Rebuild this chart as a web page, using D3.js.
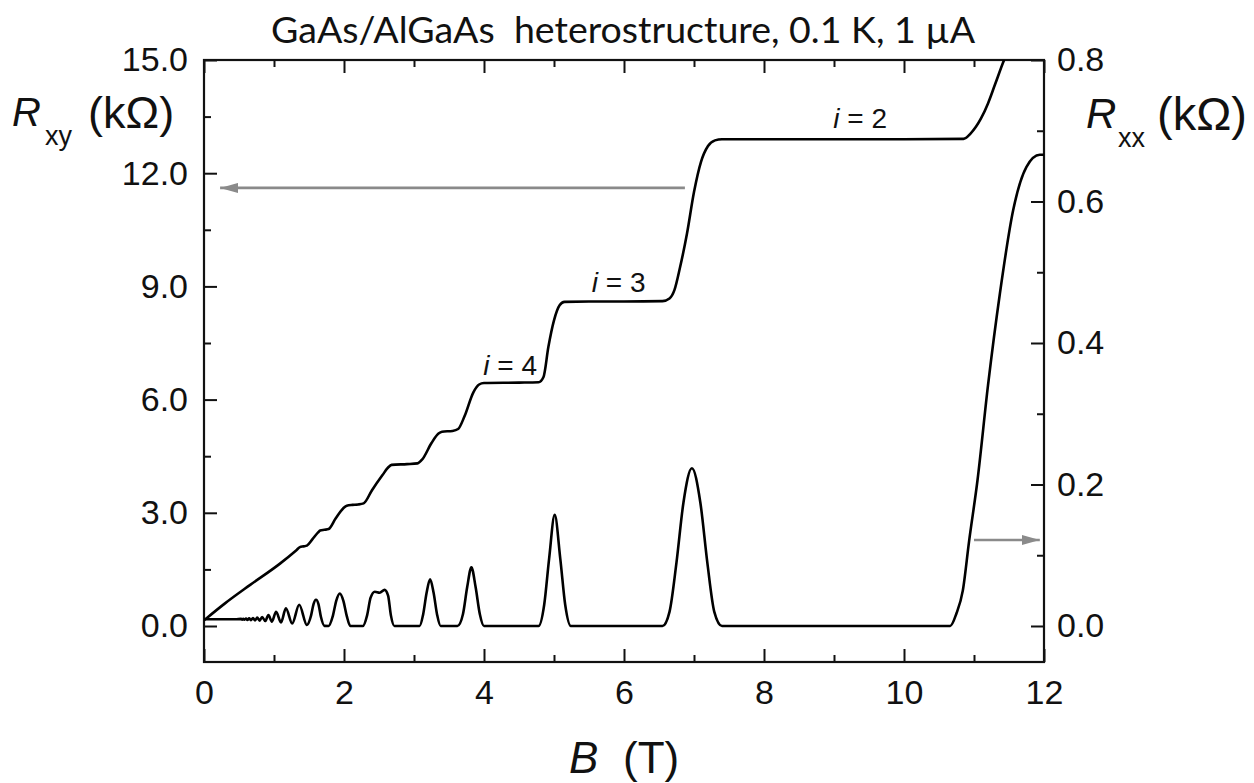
<!DOCTYPE html>
<html>
<head>
<meta charset="utf-8">
<script src="https://cdn.jsdelivr.net/npm/d3@7"></script>
<style>
  body { margin: 0; background: #fff; }
  text { font-family: "Liberation Sans", Arial, sans-serif; fill: #111; }
</style>
</head>
<body>
<svg id="qhe" width="1254" height="783"></svg>
<script>
const svg = d3.select('#qhe');

// Hall resistance R_xy (kOhm) vs B (T)
const hallB = [0, 0.3, 0.66, 1.09, 1.32, 1.37, 1.42, 1.47, 1.55, 1.63, 1.66, 1.72, 1.78, 1.88, 1.99, 2.04, 2.12, 2.2, 2.28,
  2.4, 2.55, 2.63, 2.68, 2.9, 3.05, 3.12, 3.25, 3.35, 3.4, 3.55, 3.63, 3.72, 3.85, 3.93, 4.0, 4.5, 4.78, 4.85, 4.92, 5.0,
  5.08, 5.15, 5.5, 6.0, 6.55, 6.65, 6.72, 6.8, 6.9, 7.0, 7.1, 7.2, 7.3, 7.4, 8.0, 10.0, 10.85, 10.95, 11.1, 11.2, 11.3, 11.43, 11.5];
const hallR = [0.15, 0.6, 1.09, 1.66, 2.01, 2.09, 2.11, 2.13, 2.3, 2.48, 2.53, 2.55, 2.57, 2.85, 3.12, 3.19, 3.21, 3.22, 3.25,
  3.6, 4.0, 4.2, 4.27, 4.29, 4.31, 4.42, 4.85, 5.1, 5.15, 5.17, 5.22, 5.55, 6.2, 6.4, 6.44, 6.45, 6.46, 6.6, 7.4, 8.1,
  8.5, 8.59, 8.6, 8.6, 8.61, 8.68, 8.9, 9.5, 10.4, 11.5, 12.3, 12.72, 12.87, 12.9, 12.9, 12.9, 12.91, 13.05, 13.45, 13.85, 14.35, 15.0, 15.3];

// Longitudinal resistance R_xx (kOhm) vs B (T)
const longB = [0, 0.45, 0.53, 0.545, 0.56, 0.575, 0.6, 0.62, 0.645, 0.67, 0.7, 0.73, 0.76, 0.795, 0.83, 0.875, 0.92, 0.97,
  1.03, 1.1, 1.17, 1.26, 1.36, 1.47, 1.53, 1.565, 1.6, 1.635, 1.67, 1.72, 1.78, 1.84, 1.89, 1.94, 1.99, 2.04, 2.09, 2.27,
  2.33, 2.38, 2.44, 2.51, 2.58, 2.63, 2.67, 2.72, 3.08, 3.13, 3.18, 3.23, 3.28, 3.33, 3.38, 3.62, 3.7, 3.76, 3.82, 3.88,
  3.94, 4.0, 4.78, 4.86, 4.93, 5.01, 5.09, 5.16, 5.24, 6.55, 6.65, 6.75, 6.85, 6.97, 7.09, 7.19, 7.29, 7.4, 10.66, 10.75,
  10.84, 10.93, 11.05, 11.2, 11.37, 11.56, 11.75, 11.94, 12.0];
const longR = [0.0095, 0.0095, 0.01, 0.009, 0.0102, 0.0088, 0.0105, 0.0086, 0.0108, 0.0083, 0.0112, 0.008, 0.0118, 0.0076,
  0.0128, 0.007, 0.0155, 0.0062, 0.02, 0.005, 0.025, 0.0035, 0.03, 0.0015, 0.015, 0.031, 0.037, 0.031, 0.013, 0.0002, 0,
  0.014, 0.036, 0.046, 0.036, 0.014, 0, 0, 0.015, 0.04, 0.0485, 0.047, 0.051, 0.043, 0.015, 0, 0, 0.016, 0.047, 0.066,
  0.047, 0.016, 0, 0, 0.017, 0.055, 0.083, 0.055, 0.017, 0, 0, 0.03, 0.095, 0.157, 0.095, 0.03, 0, 0, 0.02, 0.09, 0.175,
  0.223, 0.175, 0.09, 0.02, 0, 0, 0.018, 0.05, 0.12, 0.206, 0.34, 0.47, 0.588, 0.649, 0.666, 0.666];

const bMajor = [0, 2, 4, 6, 8, 10, 12];
const bMinor = [1, 3, 5, 7, 9, 11];
const rxyMajor = [0, 3, 6, 9, 12, 15];
const rxyMinor = [1.5, 4.5, 7.5, 10.5, 13.5];
const rxxMajor = [0, 0.2, 0.4, 0.6, 0.8];
const rxxMinor = [0.1, 0.3, 0.5, 0.7];

const plateauLabels = [
  {i: '2', b: 8.99, r: 13.2},
  {i: '3', b: 5.54, r: 8.85},
  {i: '4', b: 3.99, r: 6.65}
];

const pLeft = 204, pRight = 1044, pTop = 60, pBottom = 662;

const x = d3.scaleLinear().domain([0, 12]).range([pLeft, pRight]);
const yL = d3.scaleLinear().domain([-0.954, 15]).range([pBottom, pTop]);
const yR = d3.scaleLinear().domain([-0.0509, 0.8]).range([pBottom, pTop]);

// title
svg.append('text')
  .attr('x', 271).attr('y', 43)
  .style('font-family', 'Lato, "Open Sans", sans-serif')
  .style('font-size', '37.5px')
  .text('GaAs/AlGaAs\u00a0\u00a0heterostructure, 0.1 K, 1 \u00b5A');

svg.append('clipPath').attr('id', 'plotClip')
  .append('rect').attr('x', pLeft).attr('y', pTop).attr('width', pRight - pLeft).attr('height', pBottom - pTop);

// axes (ticks pointing inward)
function addAxis(axis, tx, ty, vals, size, pad, fmt) {
  const g = svg.append('g')
    .attr('transform', `translate(${tx},${ty})`)
    .call(axis.tickValues(vals).tickSize(-size).tickSizeOuter(0).tickPadding(pad).tickFormat(fmt));
  g.select('.domain').remove();
  g.selectAll('line').attr('stroke', '#111').attr('stroke-width', 2);
  g.selectAll('text').style('font-size', '34px').attr('fill', '#111')
    .style('font-family', '"Liberation Sans", Arial, sans-serif');
  return g;
}
const none = () => '';
addAxis(d3.axisBottom(x), 0, pBottom, bMajor, 13, 18, d3.format('d'));
addAxis(d3.axisBottom(x), 0, pBottom, bMinor, 7, 18, none);
addAxis(d3.axisTop(x), 0, pTop, bMajor, 13, 10, none);
addAxis(d3.axisTop(x), 0, pTop, bMinor, 7, 10, none);
addAxis(d3.axisLeft(yL), pLeft, 0, rxyMajor, 13, 16, d3.format('.1f'));
addAxis(d3.axisLeft(yL), pLeft, 0, rxyMinor, 7, 16, none);
addAxis(d3.axisRight(yR), pRight, 0, rxxMajor, 13, 13, d3.format('.1f'));
addAxis(d3.axisRight(yR), pRight, 0, rxxMinor, 7, 13, none);

svg.append('rect')
  .attr('x', pLeft).attr('y', pTop).attr('width', pRight - pLeft).attr('height', pBottom - pTop)
  .attr('fill', 'none').attr('stroke', '#111').attr('stroke-width', 2.2);

// curves
const lineL = d3.line().x(d => x(d[0])).y(d => yL(d[1])).curve(d3.curveMonotoneX);
const lineR = d3.line().x(d => x(d[0])).y(d => yR(d[1])).curve(d3.curveMonotoneX);

const plot = svg.append('g').attr('clip-path', 'url(#plotClip)');
plot.append('path')
  .attr('d', lineL(d3.zip(hallB, hallR)))
  .attr('fill', 'none').attr('stroke', '#000').attr('stroke-width', 2.6);
plot.append('path')
  .attr('d', lineR(d3.zip(longB, longR)))
  .attr('fill', 'none').attr('stroke', '#000').attr('stroke-width', 2.6);

// gray arrows pointing at each curve's axis
svg.append('defs').append('marker')
  .attr('id', 'head').attr('viewBox', '0 0 18 10').attr('refX', 18).attr('refY', 5)
  .attr('markerUnits', 'userSpaceOnUse').attr('markerWidth', 18).attr('markerHeight', 10)
  .attr('orient', 'auto')
  .append('path').attr('d', 'M0,0 L18,5 L0,10 Z').attr('fill', '#8a8a8a');

const arrow = d3.line();
svg.append('path')
  .attr('d', arrow([[x(6.87), yL(11.61)], [x(0.23), yL(11.61)]]))
  .attr('stroke', '#8a8a8a').attr('stroke-width', 2.6).attr('marker-end', 'url(#head)');
svg.append('path')
  .attr('d', arrow([[x(11.0), yR(0.1216)], [x(11.94), yR(0.1216)]]))
  .attr('stroke', '#8a8a8a').attr('stroke-width', 2.6).attr('marker-end', 'url(#head)');

// plateau labels
plateauLabels.forEach(p => {
  const t = svg.append('text')
    .attr('x', x(p.b)).attr('y', yL(p.r))
    .style('font-size', '28px');
  t.append('tspan').style('font-style', 'italic').text('i');
  t.append('tspan').text(' = ' + p.i);
});

// axis titles
function axisTitle(xPos, base, rSize, sub, subX, subSize, unitX, unitSize) {
  svg.append('text').attr('x', xPos).attr('y', base)
    .style('font-size', rSize + 'px').style('font-style', 'italic').text('R');
  svg.append('text').attr('x', subX).attr('y', base + 19)
    .style('font-size', subSize + 'px').text(sub);
  svg.append('text').attr('x', unitX).attr('y', base + 2)
    .style('font-size', unitSize + 'px').text('(k\u03a9)');
}
axisTitle(12, 126, 40, 'xy', 45, 27, 88, 45);
axisTitle(1086, 128, 42, 'xx', 1118, 27, 1157, 47);

svg.append('text').attr('x', 569).attr('y', 773)
  .style('font-size', '44px').style('font-style', 'italic').text('B');
svg.append('text').attr('x', 623).attr('y', 773)
  .style('font-size', '44px').text('(T)');
</script>
</body>
</html>
